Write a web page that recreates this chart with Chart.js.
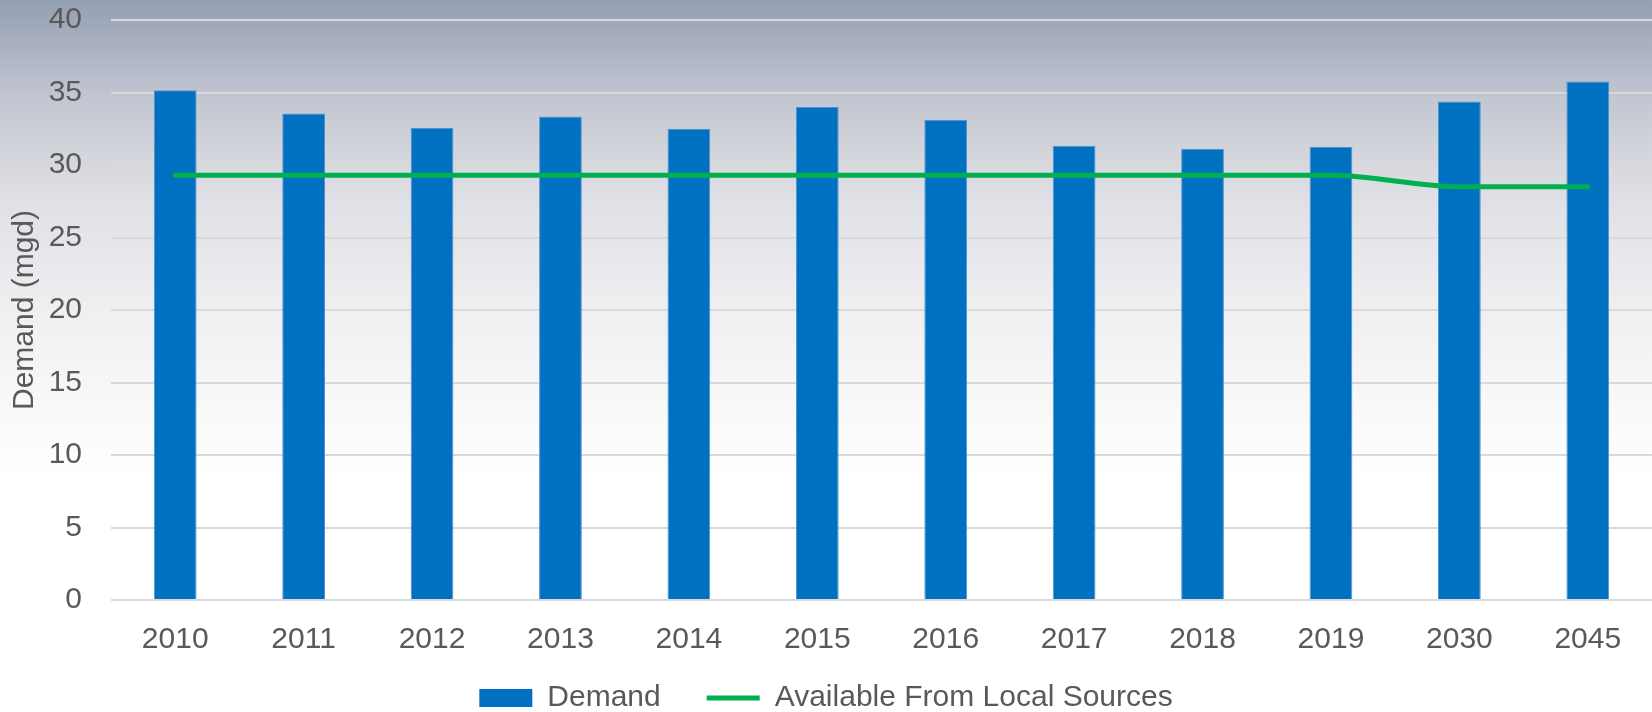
<!DOCTYPE html>
<html>
<head>
<meta charset="utf-8">
<script src="https://cdn.jsdelivr.net/npm/chart.js@4.4.1/dist/chart.umd.min.js"></script>
<style>
    html, body {
        margin: 0;
        padding: 0;
    }
    body {
        width: 1652px;
        height: 712px;
        overflow: hidden;
        background: linear-gradient(to bottom,
            #949fb2 0%, #b0b7c6 8.4%, #c3c7d1 14%, #d7d8de 23%,
            #dfe0e5 28%, #eeeef1 42%, #f8f8f9 56%, #ffffff 67%, #ffffff 100%);
    }
    #wrap {
        position: relative;
        width: 1652px;
        height: 712px;
    }
</style>
</head>
<body>
<div id="wrap"><canvas id="demandChart"></canvas></div>
<script>
// Water demand vs. local supply (mgd)
const years = ['2010', '2011', '2012', '2013', '2014', '2015', '2016', '2017', '2018', '2019', '2030', '2045'];
const demand = [35.15, 33.55, 32.55, 33.35, 32.5, 34.0, 33.1, 31.33, 31.12, 31.26, 34.38, 35.76];
const localSupply = [29.3, 29.3, 29.3, 29.3, 29.3, 29.3, 29.3, 29.3, 29.3, 29.3, 28.5, 28.5];
const yTicks = [0, 5, 10, 15, 20, 25, 30, 35, 40];

// legend sits a bit lower than Chart.js puts it, and x labels must not be clipped
const bottomFix = {
    id: 'bottomFix',
    afterLayout(chart) {
        chart.scales.x.bottom = chart.height;
        chart.legend.top += 11;
        chart.legend.bottom += 11;
    }
};

document.addEventListener('DOMContentLoaded', function() {
    const textColor = '#595959';
    Chart.defaults.font.family = '"Liberation Sans", Arial, sans-serif';
    Chart.defaults.color = textColor;

    const ctx = document.getElementById('demandChart');

    new Chart(ctx, {
        type: 'bar',
        data: {
            labels: years,
            datasets: [{
                type: 'bar',
                label: 'Demand',
                data: demand,
                backgroundColor: '#0070c0',
                borderColor: '#4f93d2',
                borderWidth: 1,
                barPercentage: 0.333,
                categoryPercentage: 1,
                order: 2
            }, {
                type: 'line',
                label: 'Available From Local Sources',
                data: localSupply,
                borderColor: '#00b050',
                backgroundColor: '#00b050',
                borderWidth: 5,
                borderCapStyle: 'round',
                cubicInterpolationMode: 'monotone',
                pointRadius: 0,
                pointHoverRadius: 0,
                fill: false,
                order: 1
            }]
        },
        options: {
            responsive: true,
            maintainAspectRatio: false,
            animation: false,
            layout: {
                padding: { top: 20, left: 0, right: 0, bottom: 0 }
            },
            plugins: {
                legend: {
                    position: 'bottom',
                    labels: {
                        color: textColor,
                        font: { size: 30 },
                        usePointStyle: true,
                        pointStyleWidth: 53,
                        boxHeight: 18,
                        padding: 46,
                        sort: (a, b) => a.datasetIndex - b.datasetIndex,
                        generateLabels: function(chart) {
                            const items = Chart.defaults.plugins.legend.labels.generateLabels(chart);
                            items.forEach(item => {
                                if (item.datasetIndex === 0) {
                                    item.pointStyle = 'rect';
                                    item.fillStyle = '#0070c0';
                                    item.lineWidth = 0;
                                } else {
                                    item.pointStyle = 'line';
                                    item.strokeStyle = '#00b050';
                                    item.lineWidth = 5;
                                }
                            });
                            return items;
                        }
                    }
                },
                tooltip: { enabled: false }
            },
            scales: {
                x: {
                    grid: { display: false },
                    border: { display: false },
                    ticks: {
                        color: textColor,
                        font: { size: 30 },
                        padding: 14,
                        maxRotation: 0
                    },
                    afterFit: function(scale) {
                        scale.height = 26;
                    }
                },
                y: {
                    min: 0,
                    max: 40,
                    afterBuildTicks: function(scale) {
                        scale.ticks = yTicks.map(v => ({ value: v }));
                    },
                    grid: {
                        color: '#d9d9d9',
                        lineWidth: 2,
                        drawTicks: true,
                        tickLength: 29,
                        tickColor: 'rgba(0, 0, 0, 0)'
                    },
                    border: { display: false },
                    ticks: {
                        color: textColor,
                        font: { size: 30 },
                        padding: 0
                    },
                    title: {
                        display: true,
                        text: 'Demand (mgd)',
                        color: textColor,
                        font: { size: 30 },
                        padding: { top: 7, bottom: 0 }
                    },
                    afterFit: function(scale) {
                        scale.width = 111;
                    }
                }
            }
        },
        plugins: [bottomFix]
    });
});
</script>
</body>
</html>
